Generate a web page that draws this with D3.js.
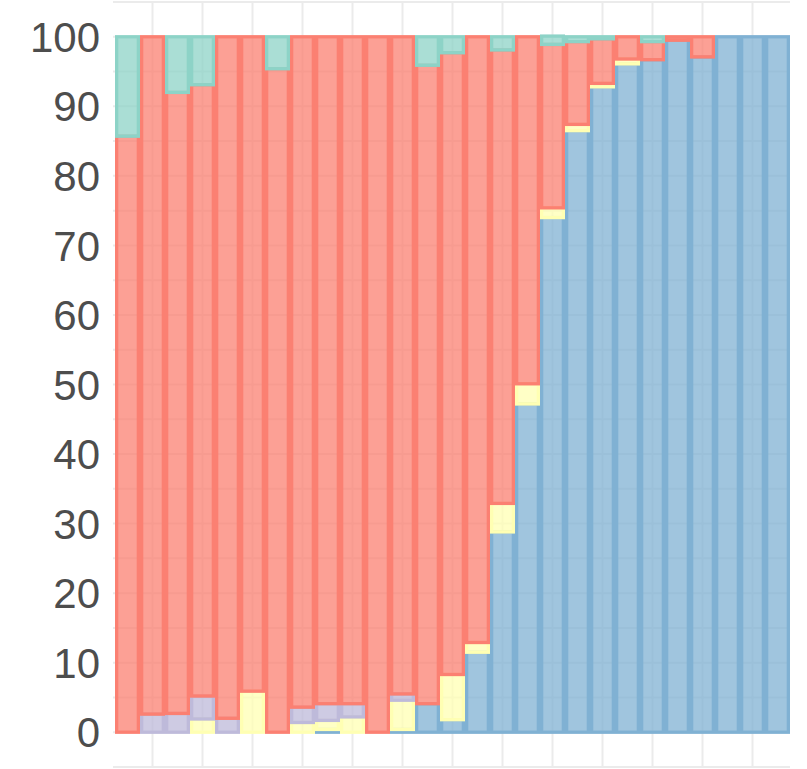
<!DOCTYPE html>
<html>
<head>
<meta charset="utf-8">
<script src="https://cdn.jsdelivr.net/npm/d3@7"></script>
<style>
  html, body { margin: 0; padding: 0; background: #fff; }
  svg { display: block; }
</style>
</head>
<body>
<svg id="chart" width="807" height="769"></svg>
<script>
// Categories (27 bars, unlabeled)
const categories = d3.range(27).map(i => "c" + i);
// Series in stacking order, bottom to top
const seriesNames = ["blue", "yellow", "purple", "red", "teal"];
const seriesColors = ["#80b1d3", "#ffffb3", "#bebada", "#fb8072", "#8dd3c7"];

const blue   = [0, 0, 0, 0, 0, 0, 0, 0, 0.4, 0, 0, 0.4, 4.1, 1.8, 11.5, 28.8, 47.2, 74.0, 86.5, 92.8, 96.1, 96.7, 99.5, 97.1, 100, 100, 100];
const yellow = [0, 0, 0, 1.9, 0, 5.9, 0, 1.4, 1.3, 2.2, 0, 4.2, 0, 6.5, 1.4, 4.1, 2.9, 1.4, 0.9, 0.5, 0.7, 0, 0, 0, 0, 0, 0];
const purple = [0, 2.6, 2.7, 3.3, 2.0, 0, 0, 2.2, 2.4, 1.9, 0, 0.9, 0, 0, 0, 0, 0, 0, 0, 0, 0, 0, 0, 0, 0, 0, 0];
const red    = [85.7, 97.4, 89.3, 87.9, 98.0, 94.1, 95.4, 96.4, 95.9, 95.9, 100, 94.5, 91.8, 89.4, 87.1, 65.2, 49.9, 23.5, 11.9, 6.4, 3.2, 2.6, 0.5, 2.9, 0, 0, 0];
const teal   = [14.3, 0, 8.0, 6.9, 0, 0, 4.6, 0, 0, 0, 0, 0, 4.1, 2.3, 0, 1.9, 0, 1.2, 0.7, 0.3, 0, 0.7, 0, 0, 0, 0, 0];

const yTicks = [0, 10, 20, 30, 40, 50, 60, 70, 80, 90, 100];
const gridValues = d3.range(-5, 106, 5);

const seriesValues = [blue, yellow, purple, red, teal];
const table = categories.map((c, i) => {
  const row = { cat: c };
  seriesNames.forEach((s, k) => row[s] = seriesValues[k][i]);
  return row;
});

const svg = d3.select("#chart");
const x = d3.scaleBand().domain(categories).range([115, 790]).padding(0);
const y = d3.scaleLinear().domain([-5, 105]).range([767, 2]);

// gridlines
const grid = svg.append("g");
grid.selectAll("line.h").data(gridValues).join("line")
  .attr("x1", 113).attr("x2", 790)
  .attr("y1", d => y(d)).attr("y2", d => y(d))
  .attr("stroke", "#ebebeb").attr("stroke-width", 2);
grid.selectAll("line.v").data(categories.filter((c, i) => i % 2 === 1)).join("line")
  .attr("x1", d => x(d) + x.bandwidth() / 2).attr("x2", d => x(d) + x.bandwidth() / 2)
  .attr("y1", 2).attr("y2", 767)
  .attr("stroke", "#ebebeb").attr("stroke-width", 2);

// stacked bars
const stack = d3.stack().keys(seriesNames)(table);
const sw = 3.3;
stack.forEach((layer, k) => {
  svg.append("g")
    .selectAll("rect")
    .data(layer.filter(d => d[1] - d[0] > 0))
    .join("rect")
    .attr("x", d => x(d.data.cat) + sw / 2)
    .attr("width", x.bandwidth() - sw)
    .attr("y", d => y(d[1]))
    .attr("height", d => y(d[0]) - y(d[1]))
    .attr("fill", seriesColors[k])
    .attr("fill-opacity", 0.75)
    .attr("stroke", seriesColors[k])
    .attr("stroke-width", sw);
});

// y axis labels
svg.append("g").selectAll("text").data(yTicks).join("text")
  .attr("x", 100)
  .attr("y", d => y(d))
  .attr("dy", "0.36em")
  .attr("text-anchor", "end")
  .attr("font-family", "Liberation Sans, Arial, sans-serif")
  .attr("font-size", 42)
  .attr("fill", "#4d4d4d")
  .text(d => d);
</script>
</body>
</html>
